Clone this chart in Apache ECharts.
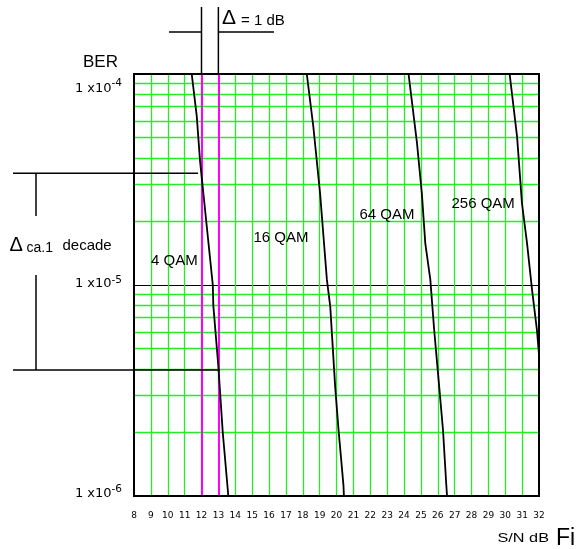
<!DOCTYPE html>
<html>
<head>
<meta charset="utf-8">
<script src="https://cdn.jsdelivr.net/npm/echarts@6/dist/echarts.min.js"></script>
<style>
html,body{margin:0;padding:0;background:#fff;}
#chart{width:581px;height:549px;}
</style>
</head>
<body>
<div id="chart"></div>
<script>
// ---- data ----
const qam4X   = [11.42, 11.72, 11.91, 12.67, 12.70, 13.00, 13.26, 13.59];
const qam4Y   = [1e-4, 6.3e-5, 3.9e-5, 1.0e-5, 8.0e-6, 4.1e-6, 2.0e-6, 1e-6];
const qam16X  = [18.24, 18.63, 19.03, 19.43, 19.63, 19.92, 20.12, 20.41, 20.44];
const qam16Y  = [1e-4, 5.6e-5, 2.7e-5, 1.06e-5, 7.9e-6, 3.3e-6, 2.06e-6, 1.13e-6, 1e-6];
const qam64X  = [24.27, 24.77, 25.06, 25.26, 25.56, 25.79, 26.05, 26.31, 26.50, 26.55];
const qam64Y  = [1e-4, 4.7e-5, 2.7e-5, 1.58e-5, 1.06e-5, 6.1e-6, 3.55e-6, 2.06e-6, 1.15e-6, 1e-6];
const qam256X = [30.26, 30.70, 30.99, 31.29, 31.59, 31.88, 32.0];
const qam256Y = [1e-4, 5.05e-5, 2.44e-5, 1.58e-5, 9.46e-6, 6.1e-6, 4.66e-6];

const xTickLabels = ['8','9','10','11','12','13','14','15','16','17','18','19','20','21','22','23','24','25','26','27','28','29','30','31','32'];
const yTickExps   = [-6, -5, -4];
const yTickBase   = ['1 x10', '1 x10', '1 x10'];
const yTickSup    = ['-6', '-5', '-4'];
const minorGridValues = [2e-6,3e-6,4e-6,5e-6,6e-6,7e-6,8e-6,9e-6,2e-5,3e-5,4e-5,5e-5,6e-5,7e-5,8e-5,9e-5];
const highlightX  = [12, 13];
const xRange = [8, 32];
const yRange = [1e-6, 1e-4];

function pairs(xs, ys){ return xs.map((x,i)=>[x, ys[i]]); }

const chart = echarts.init(document.getElementById('chart'), null, {renderer:'canvas'});
const FONT = '"Liberation Sans", Arial, sans-serif';
const WIDE = '"DejaVu Sans", sans-serif';

const curveStyle = {color:'#000', width:1.8};
function curve(name, xs, ys){
  return {name, type:'line', data:pairs(xs, ys), showSymbol:false, symbol:'none',
          lineStyle:curveStyle, itemStyle:{color:'#000'}, z:5, silent:true, animation:false};
}

const labelRich = {
  b0:{fontFamily:WIDE, fontSize:13, color:'#000', padding:[0,0,4,0]},
  s0:{fontFamily:WIDE, fontSize:10.5, color:'#000', padding:[0,0,14,0]},
  b1:{fontFamily:WIDE, fontSize:13, color:'#000', padding:[0,0,2,0]},
  s1:{fontFamily:WIDE, fontSize:10.5, color:'#000', padding:[0,0,9,0]},
  b2:{fontFamily:WIDE, fontSize:13, color:'#000', padding:[30,0,0,0]},
  s2:{fontFamily:WIDE, fontSize:10.5, color:'#000', padding:[30,0,12,0]}
};

function gridLines(z, color, width, segs){
  return {type:'lines', coordinateSystem:'cartesian2d', polyline:false, silent:true, z:z,
    animation:false, effect:{show:false},
    lineStyle:{color:color, width:width, opacity:1, curveness:0},
    data:segs.map(c=>({coords:c}))};
}

const option = {
  animation:false,
  backgroundColor:'#fff',
  grid:{left:134, top:74, right:42, bottom:53, show:true, borderColor:'#000', borderWidth:2, backgroundColor:'transparent', z:10},
  xAxis:{
    type:'value', min:xRange[0], max:xRange[1], interval:1,
    axisLine:{show:false}, axisTick:{show:false},
    axisLabel:{fontFamily:WIDE, fontSize:9, color:'#000', margin:15,
      formatter:(v)=>{ const i = Math.round(v-8); return xTickLabels[i] !== undefined ? xTickLabels[i] : ''; }},
    splitLine:{show:true, showMinLine:false, showMaxLine:false, lineStyle:{color:'#22ee22', width:1.3}}
  },
  yAxis:{
    type:'log', logBase:10, min:yRange[0], max:yRange[1],
    axisLine:{show:false}, axisTick:{show:false},
    axisLabel:{margin:12, color:'#000', rich:labelRich,
      formatter:(v)=>{ const e = Math.round(Math.log10(v)); const i = yTickExps.indexOf(e);
        if(i<0) return ''; return '{b'+i+'|'+yTickBase[i]+'}{s'+i+'|'+yTickSup[i]+'}'; }},
    splitLine:{show:true, showMinLine:false, showMaxLine:false, lineStyle:{color:'#000', width:1}}
  },
  series:[
    gridLines(1, '#22ee22', 1.3, minorGridValues.map(v=>[[xRange[0], v],[xRange[1], v]])),
    gridLines(2, '#ff00ff', 2, highlightX.map(v=>[[v, yRange[0]],[v, yRange[1]]])),
    curve('4 QAM', qam4X, qam4Y),
    curve('16 QAM', qam16X, qam16Y),
    curve('64 QAM', qam64X, qam64Y),
    curve('256 QAM', qam256X, qam256Y)
  ]
};
chart.setOption(option);

// ---- annotations ----
const x12 = chart.convertToPixel({gridIndex:0}, [highlightX[0], yRange[1]]);
const x13 = chart.convertToPixel({gridIndex:0}, [highlightX[1], yRange[1]]);
const topY = x12[1];
const ln = (x1,y1,x2,y2)=>({type:'line', shape:{x1,y1,x2,y2}, style:{stroke:'#000', lineWidth:1.5}, z:20, silent:true});
const tx = (text,x,y,size,extra)=>Object.assign({type:'text', x, y, silent:true, z:20,
  style:{text, fill:'#000', fontSize:size, fontFamily:FONT, verticalAlign:'middle', align:'left'}}, extra||{});

chart.setOption({graphic:[
  ln(x12[0], 7, x12[0], topY),
  ln(x13[0], 7, x13[0], topY),
  ln(169, 32, x12[0], 32),
  ln(x13[0], 32, 274, 32),
  tx('Δ', 222, 18.5, 21),
  tx('= 1 dB', 241, 20.5, 15),
  tx('BER', 83, 62, 17),
  ln(13, 173.3, 198, 173.3),
  ln(13, 370, 220, 370),
  ln(36, 173.3, 36, 216),
  ln(36, 275, 36, 370),
  tx('Δ', 9.5, 245.5, 20),
  tx('ca.1', 26.5, 248, 14),
  tx('decade', 62.5, 245.5, 15),
  tx('4 QAM', 151, 260.5, 15),
  tx('16 QAM', 253.5, 238, 15),
  tx('64 QAM', 359.5, 215, 15),
  tx('256 QAM', 451.5, 204, 15),
  {type:'text', x:497.5, y:538.5, scaleX:1.3, silent:true, z:20,
   style:{text:'S/N dB', fill:'#000', fontSize:12.5, fontFamily:FONT, verticalAlign:'middle', align:'left'}},
  tx('Fi', 556, 539, 23)
]});
</script>
</body>
</html>
